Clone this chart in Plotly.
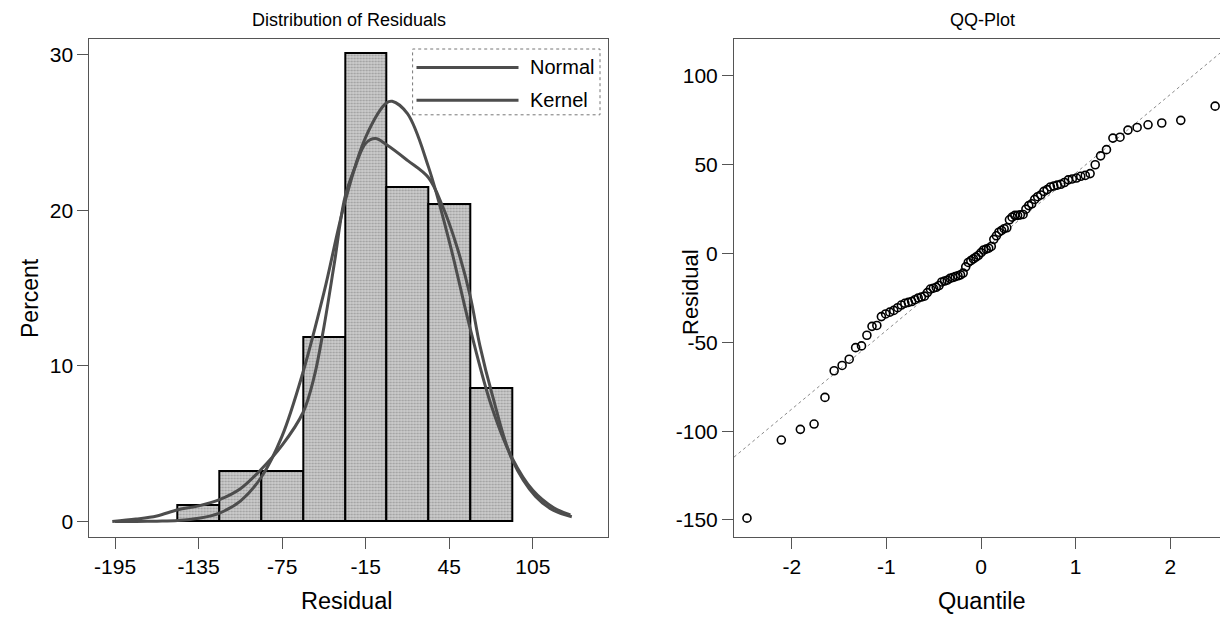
import plotly.graph_objects as go

# ---------------- data ----------------
bin_mid = [-135, -105, -75, -45, -15, 15, 45, 75]
bin_pct = [1.08, 3.23, 3.23, 11.83, 30.11, 21.51, 20.43, 8.60]

normal_x = [-195, -180, -165, -150, -135, -120, -105, -90, -75, -60, -45, -30, -15, 0, 4, 15, 30, 45, 60, 75, 90, 105, 120, 132]
normal_y = [0.00, 0.00, 0.02, 0.06, 0.20, 0.54, 1.31, 2.84, 5.50, 9.60, 14.7, 20.5, 24.7, 26.9, 27.0, 26.2, 22.8, 18.0, 12.4, 7.5, 4.1, 2.0, 0.88, 0.42]

kernel_x = [-197, -180, -165, -150, -135, -120, -105, -90, -75, -60, -52, -45, -37.5, -30, -22.5, -15, -8, 0, 15, 30, 40, 50, 60, 67, 76, 90, 107, 120, 133]
kernel_y = [0.0, 0.15, 0.35, 0.75, 1.0, 1.4, 2.1, 3.35, 4.9, 7.0, 9.3, 12.5, 16.6, 20.8, 22.8, 24.3, 24.6, 24.2, 23.2, 22.1, 20.3, 17.8, 14.5, 11.3, 8.1, 4.0, 1.6, 0.7, 0.3]

qq_quantile = [-2.473, -2.110, -1.909, -1.764, -1.649, -1.552, -1.468, -1.393, -1.325, -1.263,
               -1.206, -1.152, -1.101, -1.053, -1.008, -0.964, -0.922, -0.881, -0.842, -0.805,
               -0.768, -0.733, -0.698, -0.664, -0.631, -0.598, -0.567, -0.535, -0.504, -0.474,
               -0.444, -0.415, -0.386, -0.357, -0.328, -0.300, -0.272, -0.244, -0.217, -0.189,
               -0.162, -0.135, -0.108, -0.081, -0.054, -0.027, 0.000, 0.027, 0.054, 0.081,
               0.108, 0.135, 0.162, 0.189, 0.217, 0.244, 0.272, 0.300, 0.328, 0.357,
               0.386, 0.415, 0.444, 0.474, 0.504, 0.535, 0.567, 0.598, 0.631, 0.664,
               0.698, 0.733, 0.768, 0.805, 0.842, 0.881, 0.922, 0.964, 1.008, 1.053,
               1.101, 1.152, 1.206, 1.263, 1.325, 1.393, 1.468, 1.552, 1.649, 1.764,
               1.909, 2.110, 2.473]
qq_residual = [-149, -105, -99, -96, -81, -66, -63, -59.5, -53, -52,
               -46, -41, -40.5, -35.5, -34, -33, -32, -30.5, -29, -28,
               -27.5, -27, -26, -25, -24.5, -24, -22, -20, -19.5, -19,
               -18, -16, -15.5, -15, -14, -13.5, -13, -12.5, -12, -11,
               -7.5, -5, -4, -3, -2, -1, 0.5, 2, 2.5, 3,
               4, 8, 10, 12, 13, 14, 14.5, 19, 20.5, 21.5,
               21.5, 21.8, 22, 25, 27, 28, 30.5, 32, 33, 35,
               36, 37.5, 38, 38.5, 39, 40, 41.5, 42, 42.5, 43.5,
               44, 45, 50, 55, 58.5, 65, 65.5, 69.5, 71, 72.5,
               73.5, 75, 83]
ref_intercept = 1.0
ref_slope = 44.3

hist_xticks = [-195, -135, -75, -15, 45, 105]
hist_yticks = [0, 10, 20, 30]
qq_xticks = [-2, -1, 0, 1, 2]
qq_yticks = [-150, -100, -50, 0, 50, 100]

# ---------------- layout helpers ----------------
W, H = 1228, 617
def px(x):
    return x / W
def py(y):
    return 1 - y / H

FONT = "Liberation Sans, Arial, sans-serif"
CURVE = "#4d4d4d"
AXC = "#555555"

hist_xrange = [-213.5, 159.0]
hist_yrange = [-1.0, 31.0]
qq_xrange = [-2.61, 2.63]
qq_yrange = [-159.6, 120.8]

fig = go.Figure()

fig.add_trace(go.Bar(
    x=bin_mid, y=bin_pct, width=30, xaxis="x", yaxis="y",
    marker=dict(color="#c2c2c2", line=dict(color="black", width=2),
                pattern=dict(shape=".", fgcolor="#6e6e6e", bgcolor="#cdcdcd", size=3, solidity=0.4)),
    showlegend=False, name="Percent"))
fig.add_trace(go.Scatter(x=normal_x, y=normal_y, mode="lines", line=dict(color=CURVE, width=3, shape="spline"),
                         xaxis="x", yaxis="y", name="Normal", showlegend=False))
fig.add_trace(go.Scatter(x=kernel_x, y=kernel_y, mode="lines", line=dict(color=CURVE, width=3, shape="spline"),
                         xaxis="x", yaxis="y", name="Kernel", showlegend=False))

fig.add_trace(go.Scatter(x=qq_xrange, y=[ref_intercept + ref_slope * v for v in qq_xrange], mode="lines",
                         line=dict(color="#8a8a8a", width=1, dash="dot"),
                         xaxis="x2", yaxis="y2", showlegend=False, name="Reference"))
fig.add_trace(go.Scatter(x=qq_quantile, y=qq_residual, mode="markers",
                         marker=dict(symbol="circle-open", size=8, color="black", line=dict(width=1.6)),
                         xaxis="x2", yaxis="y2", showlegend=False, name="Residual"))

axis_common = dict(showline=True, linecolor=AXC, linewidth=1, mirror=True, ticks="outside",
                   ticklen=11, tickcolor=AXC, tickwidth=1, showgrid=False, zeroline=False,
                   tickfont=dict(family=FONT, size=21, color="black"))
# the page body adds an 8 px offset, so positions below are shifted by -8 px
ydom = [py(529), py(31)]

fig.update_layout(
    width=W, height=H, margin=dict(l=0, r=0, t=0, b=0),
    paper_bgcolor="white", plot_bgcolor="white",
    font=dict(family=FONT, color="black"),
    bargap=0,
    xaxis=dict(domain=[px(81.3), px(600)], range=hist_xrange, tickvals=hist_xticks,
               ticktext=[str(v) for v in hist_xticks], anchor="y", **axis_common),
    yaxis=dict(domain=ydom, range=hist_yrange, tickvals=hist_yticks,
               ticktext=[str(v) for v in hist_yticks], anchor="x", **axis_common),
    xaxis2=dict(domain=[px(726), px(1222)], range=qq_xrange, tickvals=qq_xticks,
                ticktext=[str(v) for v in qq_xticks], anchor="y2", **axis_common),
    yaxis2=dict(domain=ydom, range=qq_yrange, tickvals=qq_yticks,
                ticktext=[str(v) for v in qq_yticks], anchor="x2", **axis_common),
)

ann = []
def add_text(text, x, y, size, angle=0, xanchor="center"):
    ann.append(dict(text=text, x=px(x), y=py(y), xref="paper", yref="paper", showarrow=False,
                    xanchor=xanchor, yanchor="middle", textangle=angle,
                    font=dict(family=FONT, size=size, color="black")))

add_text("Distribution of Residuals", 341, 12, 18)
add_text("QQ-Plot", 974, 12, 18)
add_text("Percent", 22, 290, 23, angle=-90)
add_text("Residual", 338, 593, 23.5)
add_text("Residual", 682, 284, 22, angle=-90)
add_text("Quantile", 974, 593, 23.5)
# legend drawn by hand
add_text("Normal", 520, 59, 20, xanchor="left")
add_text("Kernel", 520, 92, 20, xanchor="left")
fig.update_layout(annotations=ann)

shapes = [
    dict(type="rect", xref="paper", yref="paper", x0=px(404.6), x1=px(592), y0=py(106.8), y1=py(41),
         line=dict(color="#777777", width=1, dash="dot"), fillcolor="rgba(0,0,0,0)"),
    dict(type="line", xref="paper", yref="paper", x0=px(408.5), x1=px(510.5), y0=py(59.4), y1=py(59.4),
         line=dict(color=CURVE, width=3)),
    dict(type="line", xref="paper", yref="paper", x0=px(408.5), x1=px(510.5), y0=py(92.2), y1=py(92.2),
         line=dict(color=CURVE, width=3)),
]
fig.update_layout(shapes=shapes)

fig.write_html("out.html")
